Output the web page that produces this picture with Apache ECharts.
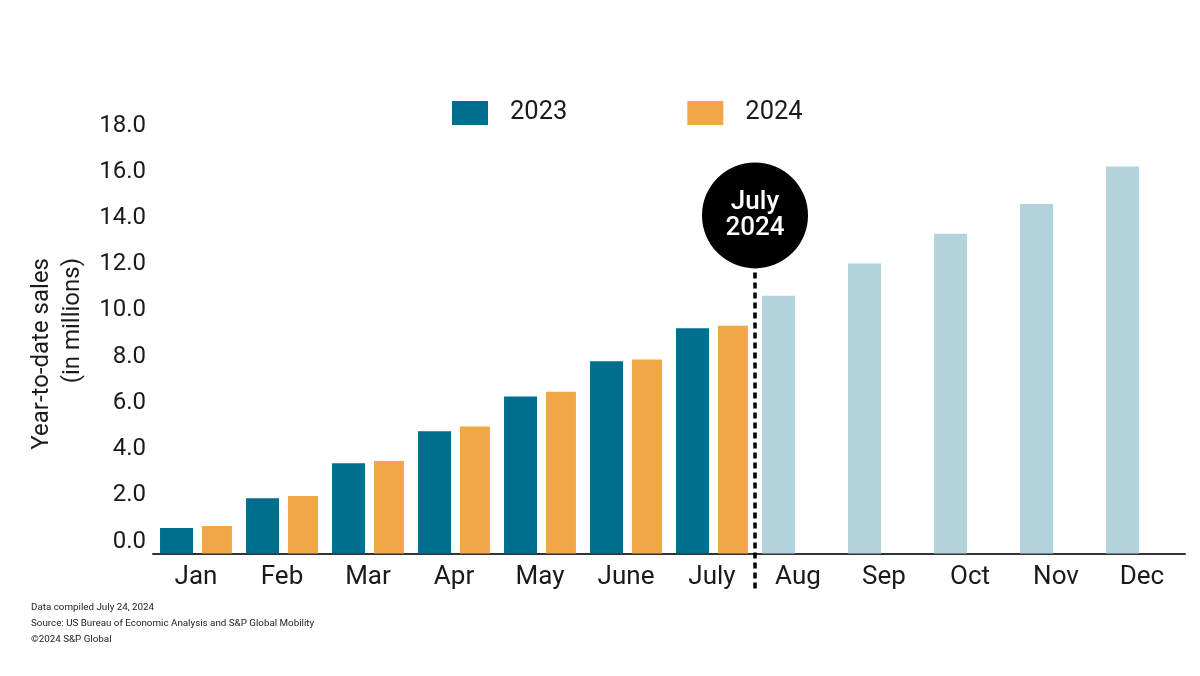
<!DOCTYPE html>
<html><head><meta charset="utf-8">
<script src="https://cdn.jsdelivr.net/npm/echarts@6/dist/echarts.min.js"></script>
<style>html,body{margin:0;padding:0;background:#fff}#c{width:1200px;height:676px}</style>
</head><body><div id="c"></div>
<script>
const months = ['Jan','Feb','Mar','Apr','May','June','July','Aug','Sep','Oct','Nov','Dec'];
const sales2023 = [1.10, 2.39, 3.90, 5.29, 6.79, 8.32, 9.75];
const sales2024 = [1.19, 2.49, 4.00, 5.49, 7.00, 8.39, 9.85];
const projected2023 = [11.15, 12.55, 13.83, 15.12, 16.75];
const yMin = 0, yMax = 18, yStep = 2;
const yTitle = 'Year-to-date sales\n(in millions)';
const markerText = 'July\n2024';
const markerValue = 14.63;
const footnotes = ['Data compiled July 24, 2024', 'Source: US Bureau of Economic Analysis and S&P Global Mobility', '\u00A92024 S&P Global'];

const C2023 = '#006e8e', C2024 = '#f2a747', CPROJ = '#b2d3dc';
const FONT = 'Roboto';

const data2023 = sales2023.map(v => v).concat(projected2023.map(v => ({ value: v, itemStyle: { color: CPROJ } })));

const chart = echarts.init(document.getElementById('c'), null, { renderer: 'canvas' });
chart.setOption({
  animation: false,
  textStyle: { fontFamily: FONT },
  grid: { left: 153, right: 15, top: 137.5, bottom: 122.5 },
  legend: {
    left: 452, top: 100, padding: 0, itemWidth: 36, itemHeight: 24, itemGap: 120,
    icon: 'rect',
    textStyle: { fontFamily: FONT, fontSize: 25.5, color: '#1a1a1a', padding: [0, 0, 0, 17] },
    data: ['2023', '2024']
  },
  xAxis: {
    type: 'category', data: months,
    axisLine: { lineStyle: { color: '#333', width: 2 } },
    axisTick: { alignWithLabel: true, length: 6, lineStyle: { color: '#333', width: 1.5 } },
    axisLabel: { fontFamily: FONT, fontSize: 26, color: '#1a1a1a', margin: 11 }
  },
  yAxis: {
    type: 'value', min: yMin, max: yMax, interval: yStep,
    axisLine: { show: false }, axisTick: { show: false }, splitLine: { show: false },
    axisLabel: { fontFamily: FONT, fontSize: 24, color: '#1a1a1a', margin: 7, verticalAlign: 'bottom', lineHeight: 24,
      formatter: v => v.toFixed(1) }
  },
  series: [
    { name: '2023', type: 'bar', data: data2023, barWidth: 33, barGap: '27%', itemStyle: { color: C2023 } },
    { name: '2024', type: 'bar', data: sales2024, barWidth: 30, barGap: '27%', itemStyle: { color: C2024 } }
  ]
});

const xb = (chart.convertToPixel({ xAxisIndex: 0 }, 'July') + chart.convertToPixel({ xAxisIndex: 0 }, 'Aug')) / 2;
const yc = chart.convertToPixel({ yAxisIndex: 0 }, markerValue);
const y0 = chart.convertToPixel({ yAxisIndex: 0 }, 0);
const R = 53;

chart.setOption({
  graphic: [
    { type: 'line', z: 10, shape: { x1: xb, y1: yc + R + 4, x2: xb, y2: y0 + 36 },
      style: { stroke: '#000', lineWidth: 3.5, lineDash: [6, 4] } },
    { type: 'circle', z: 11, shape: { cx: xb, cy: yc, r: R }, style: { fill: '#000' } },
    { type: 'text', z: 12, x: xb, y: yc,
      style: { text: markerText, fill: '#fff', font: '500 26px ' + FONT, lineHeight: 26.5, align: 'center', verticalAlign: 'middle' } },
    { type: 'text', x: 57, y: 258, rotation: Math.PI / 2,
      style: { text: yTitle, fill: '#1a1a1a', font: '24px ' + FONT, lineHeight: 31, align: 'right', verticalAlign: 'middle' } },
    ...footnotes.map((t, i) => ({ type: 'text', x: 31, y: 608 + i * 16,
      style: { text: t, fill: '#222', font: '9.8px ' + FONT, align: 'left', verticalAlign: 'middle' } }))
  ]
});
</script></body></html>
